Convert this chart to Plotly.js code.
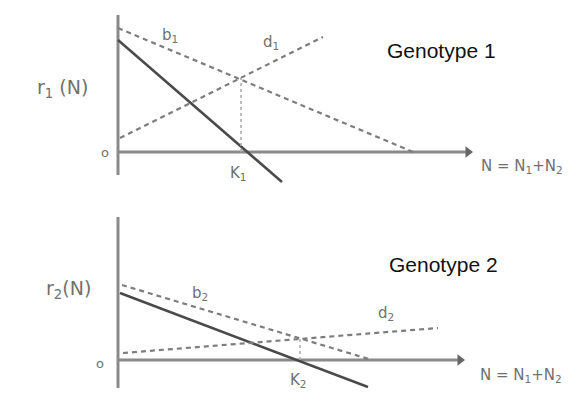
<!DOCTYPE html>
<html>
<head>
<meta charset="utf-8">
<script src="https://cdn.plot.ly/plotly-3.0.1.min.js"></script>
<style>
html,body{margin:0;padding:0;background:#fff;}
#chart{width:581px;height:405px;}
</style>
</head>
<body>
<div id="chart"></div>
<script>
// ---------- Genotype 1 (top panel) ----------
const g1AxisN = [0, 35.0];          // horizontal axis N extent (arrow tip at end)
const g1AxisR = [-2.3, 13.7];       // vertical axis r extent
const g1SolidN = [0, 16.4];         // r1(N) net growth line
const g1SolidR = [11.2, -3.0];
const g1BirthN = [0, 29.5];         // b1 birth rate (dashed)
const g1BirthR = [12.4, 0];
const g1DeathN = [0.2, 20.5];       // d1 death rate (dashed)
const g1DeathR = [1.4, 11.5];
const g1EqN = [12.3, 12.3];         // b1 = d1 crossing, dotted drop
const g1EqR = [0, 7.4];

// ---------- Genotype 2 (bottom panel) ----------
const g2AxisN = [0, 34.2];
const g2AxisR = [-2.8, 14.3];
const g2SolidN = [0.2, 25.0];
const g2SolidR = [6.7, -2.7];
const g2BirthN = [0.4, 25.4];
const g2BirthR = [7.5, 0];
const g2DeathN = [0.5, 32.0];
const g2DeathR = [0.7, 3.2];
const g2EqN = [18.2, 18.2];
const g2EqR = [0, 2.1];

// ---------- text labels ----------
const labels1 = [
  {t: 'b<sub>1</sub>', n: 5.2, r: 11.7, s: 15},
  {t: 'd<sub>1</sub>', n: 15.3, r: 11.0, s: 15},
  {t: 'K<sub>1</sub>', n: 12.0, r: -2.1, s: 15},
  {t: 'o', n: -1.3, r: 0, s: 13},
  {t: 'r<sub>1</sub> (N)', n: -5.6, r: 6.4, s: 19},
  {t: 'N = N<sub>1</sub>+N<sub>2</sub>', n: 40.4, r: -1.4, s: 15}
];
const labels2 = [
  {t: 'b<sub>2</sub>', n: 8.2, r: 6.7, s: 15},
  {t: 'd<sub>2</sub>', n: 26.8, r: 4.7, s: 15},
  {t: 'K<sub>2</sub>', n: 18.0, r: -2.0, s: 15},
  {t: 'o', n: -1.8, r: -0.3, s: 13},
  {t: 'r<sub>2</sub>(N)', n: -5.0, r: 7.1, s: 19},
  {t: 'N = N<sub>1</sub>+N<sub>2</sub>', n: 40.3, r: -1.5, s: 15}
];
const titles = [
  {t: 'Genotype 1', n: 32.3, r: 10.2, ax: 1},
  {t: 'Genotype 2', n: 32.5, r: 9.6, ax: 2}
];

const AXIS_COL = '#8a8a8a', SOLID_COL = '#4a4a4a', DASH_COL = '#7d7d7d', DOT_COL = '#aaa';
const INK = '#707070';

function panel(xa, ya, axN, axR, sN, sR, bN, bR, dN, dR, eN, eR) {
  return [
    {x: axN, y: [0, 0], xaxis: xa, yaxis: ya, mode: 'lines', line: {color: AXIS_COL, width: 3}},
    {x: [axN[1]], y: [0], xaxis: xa, yaxis: ya, mode: 'markers',
     marker: {symbol: 'triangle-right', size: 10, color: '#666'}},
    {x: [0, 0], y: axR, xaxis: xa, yaxis: ya, mode: 'lines', line: {color: AXIS_COL, width: 3}},
    {x: sN, y: sR, xaxis: xa, yaxis: ya, mode: 'lines', line: {color: SOLID_COL, width: 2.5}},
    {x: bN, y: bR, xaxis: xa, yaxis: ya, mode: 'lines', line: {color: DASH_COL, width: 2.2, dash: '5px,4px'}},
    {x: dN, y: dR, xaxis: xa, yaxis: ya, mode: 'lines', line: {color: DASH_COL, width: 2.2, dash: '5px,4px'}},
    {x: eN, y: eR, xaxis: xa, yaxis: ya, mode: 'lines', line: {color: DOT_COL, width: 1.5, dash: 'dot'}}
  ];
}

const data = [].concat(
  panel('x', 'y', g1AxisN, g1AxisR, g1SolidN, g1SolidR, g1BirthN, g1BirthR, g1DeathN, g1DeathR, g1EqN, g1EqR),
  panel('x2', 'y2', g2AxisN, g2AxisR, g2SolidN, g2SolidR, g2BirthN, g2BirthR, g2DeathN, g2DeathR, g2EqN, g2EqR)
);

const annotations = [];
labels1.forEach(l => annotations.push({xref: 'x', yref: 'y', x: l.n, y: l.r, text: l.t, showarrow: false,
  font: {family: 'DejaVu Sans', size: l.s, color: INK}}));
labels2.forEach(l => annotations.push({xref: 'x2', yref: 'y2', x: l.n, y: l.r, text: l.t, showarrow: false,
  font: {family: 'DejaVu Sans', size: l.s, color: INK}}));
titles.forEach(l => annotations.push({xref: l.ax === 1 ? 'x' : 'x2', yref: l.ax === 1 ? 'y' : 'y2',
  x: l.n, y: l.r, text: l.t, showarrow: false,
  font: {family: 'Liberation Sans', size: 21, color: '#111'}}));

const hidden = {visible: false, fixedrange: true};
const layout = {
  width: 581, height: 405,
  margin: {l: 0, r: 0, t: 0, b: 0},
  paper_bgcolor: '#fff', plot_bgcolor: '#fff',
  showlegend: false,
  xaxis: Object.assign({range: [-11.8, 46.3], domain: [0, 1], anchor: 'y'}, hidden),
  yaxis: Object.assign({range: [-4.8, 15.2], domain: [0.50617, 1], anchor: 'x'}, hidden),
  xaxis2: Object.assign({range: [-11.8, 46.3], domain: [0, 1], anchor: 'y2'}, hidden),
  yaxis2: Object.assign({range: [-4.5, 16.0], domain: [0, 0.50617], anchor: 'x2'}, hidden),
  annotations: annotations
};

Plotly.newPlot('chart', data, layout, {displayModeBar: false, staticPlot: true});
</script>
</body>
</html>
